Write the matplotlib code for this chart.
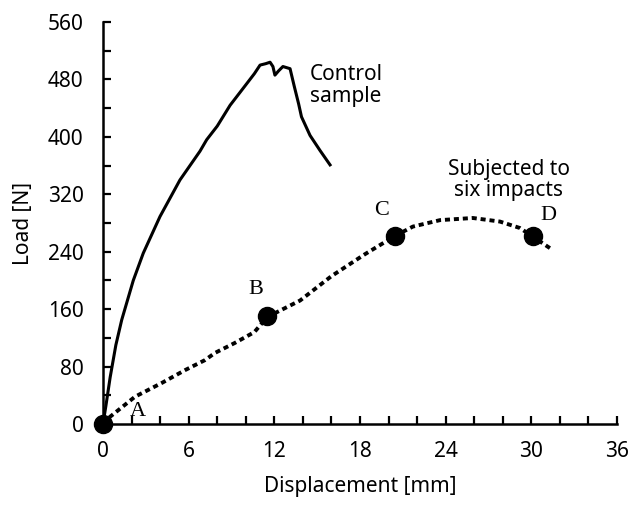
import numpy as np
import matplotlib.pyplot as plt
from matplotlib.ticker import MultipleLocator

# Control sample (solid curve)
control_disp = [0.0, 0.2, 0.5, 0.9, 1.31, 2.12, 2.82, 3.99, 5.39, 6.79, 7.26,
                8.0, 8.9, 10.06, 10.6, 11.0, 11.4, 11.7, 11.9, 12.04, 12.3,
                12.6, 13.1, 13.4, 13.7, 13.9, 14.5, 15.2, 15.9]
control_load = [0, 25, 65, 110, 145, 200, 238, 289, 340, 380, 396,
                415, 444, 474, 488, 500, 502, 504, 498, 486, 492,
                498, 495, 470, 446, 428, 402, 381, 361]

# Subjected to six impacts (dotted curve)
impact_disp = [0.0, 0.49, 2.24, 4.1, 5.74, 7.14, 7.84, 9.24, 10.6, 11.5,
               13.8, 16.0, 18.3, 20.45, 21.7, 23.6, 25.9, 27.8, 29.2, 30.1, 31.3]
impact_load = [0, 10, 38, 57, 75, 89, 99, 113, 128, 149,
               172, 206, 236, 262, 275, 284, 287, 282, 273, 261, 245]

point_labels = ['A', 'B', 'C', 'D']
point_disp = [0.0, 11.5, 20.45, 30.1]
point_load = [0, 150, 262, 262]

fig = plt.figure(figsize=(6.41, 5.05), dpi=100)
ax = fig.add_axes([0.1607, 0.1604, 0.8019, 0.796])

ax.plot(control_disp, control_load, color='black', lw=2.2)
ax.plot(impact_disp, impact_load, color='black', lw=2.8,
        linestyle=(0, (1.3, 1.0)))
ax.plot(point_disp, point_load, 'o', color='black', markersize=13,
        clip_on=False, zorder=5)

# point letters
label_pos = [(2.45, 17), (10.7, 187), (19.5, 298), (31.2, 291)]
for lab, (x, y) in zip(point_labels, label_pos):
    ax.text(x, y, lab, family='Liberation Serif', fontsize=16,
            ha='center', va='center')

ax.text(14.5, 472, 'Control\nsample', family='Noto Sans', fontsize=15,
        ha='left', va='center', linespacing=1.05)
ax.text(28.4, 340, 'Subjected to\nsix impacts', family='Noto Sans', fontsize=15,
        ha='center', va='center', linespacing=1.05)

ax.set_xlim(0, 36)
ax.set_ylim(0, 560)
ax.xaxis.set_major_locator(MultipleLocator(6))
ax.xaxis.set_minor_locator(MultipleLocator(2))
ax.yaxis.set_major_locator(MultipleLocator(80))
ax.yaxis.set_minor_locator(MultipleLocator(40))
ax.tick_params(which='both', direction='in', length=6, width=1.6,
               labelsize=15)
ax.tick_params(axis='x', pad=12)
ax.tick_params(axis='y', pad=14)
for lbl in ax.get_xticklabels() + ax.get_yticklabels():
    lbl.set_family('Noto Sans')

for side in ['top', 'right']:
    ax.spines[side].set_visible(False)
for side in ['left', 'bottom']:
    ax.spines[side].set_linewidth(1.8)

ax.set_xlabel('Displacement [mm]', family='Noto Sans', fontsize=15, labelpad=10)
ax.set_ylabel('Load [N]', family='Noto Sans', fontsize=15, labelpad=10)

fig.savefig('out.png', dpi=100)
